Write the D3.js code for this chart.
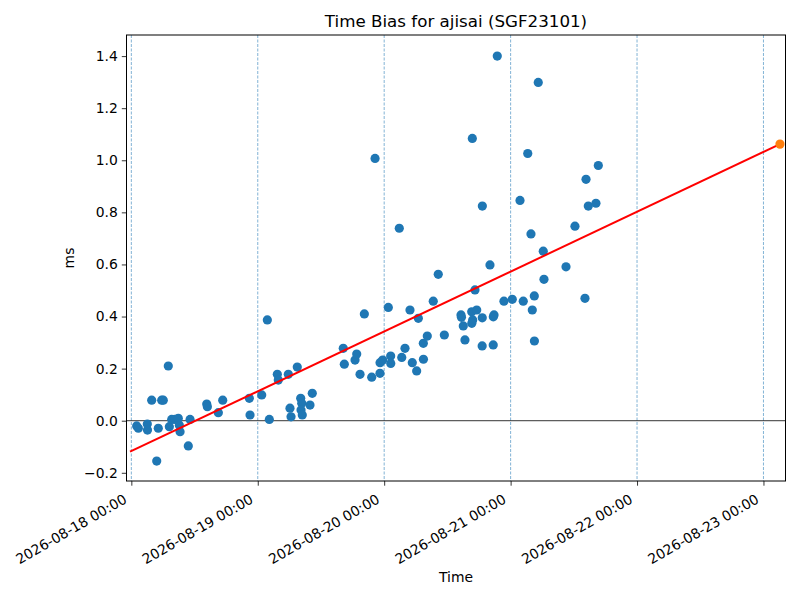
<!DOCTYPE html>
<html>
<head>
<meta charset="utf-8">
<script src="https://cdn.jsdelivr.net/npm/d3@7"></script>
<style>
  body { margin: 0; background: #fff; }
  text { font-family: "DejaVu Sans", sans-serif; fill: #000; }
</style>
</head>
<body>
<div id="chart"></div>
<script>
// measurement times (UTC) and time bias in ms
var times = [
  "2026-08-18 01:01", "2026-08-18 01:20", "2026-08-18 03:02", "2026-08-18 03:04", "2026-08-18 03:52",
  "2026-08-18 04:49", "2026-08-18 05:07", "2026-08-18 05:46", "2026-08-18 06:04", "2026-08-18 07:01",
  "2026-08-18 07:13", "2026-08-18 07:40", "2026-08-18 08:17", "2026-08-18 08:55", "2026-08-18 09:07",
  "2026-08-18 09:15", "2026-08-18 10:49", "2026-08-18 11:09", "2026-08-18 14:19", "2026-08-18 14:26",
  "2026-08-18 16:31", "2026-08-18 17:21", "2026-08-18 22:24", "2026-08-18 22:32", "2026-08-19 00:45",
  "2026-08-19 01:49", "2026-08-19 02:12", "2026-08-19 03:43", "2026-08-19 03:54", "2026-08-19 05:48",
  "2026-08-19 06:07", "2026-08-19 06:19", "2026-08-19 07:30", "2026-08-19 08:09", "2026-08-19 08:21",
  "2026-08-19 08:13", "2026-08-19 08:27", "2026-08-19 09:55", "2026-08-19 10:21", "2026-08-19 16:14",
  "2026-08-19 16:26", "2026-08-19 18:28", "2026-08-19 18:47", "2026-08-19 19:25", "2026-08-19 20:14",
  "2026-08-19 21:38", "2026-08-19 22:16", "2026-08-19 23:12", "2026-08-19 23:13", "2026-08-19 23:43",
  "2026-08-20 00:47", "2026-08-20 01:14", "2026-08-20 01:15", "2026-08-20 02:52", "2026-08-20 03:20",
  "2026-08-20 03:57", "2026-08-20 04:54", "2026-08-20 05:20", "2026-08-20 06:10", "2026-08-20 06:29",
  "2026-08-20 07:26", "2026-08-20 07:27", "2026-08-20 08:11", "2026-08-20 09:19", "2026-08-20 10:16",
  "2026-08-20 11:25", "2026-08-20 14:35", "2026-08-20 14:40", "2026-08-20 15:01", "2026-08-20 15:20",
  "2026-08-20 16:37", "2026-08-20 16:48", "2026-08-20 16:38", "2026-08-20 16:44", "2026-08-20 17:14",
  "2026-08-20 17:34", "2026-08-20 18:37", "2026-08-20 18:36", "2026-08-20 18:38", "2026-08-20 20:05",
  "2026-08-20 20:43", "2026-08-20 20:51", "2026-08-20 20:42", "2026-08-20 21:28", "2026-08-20 22:44",
  "2026-08-21 00:19", "2026-08-21 01:47", "2026-08-21 02:24", "2026-08-21 03:15", "2026-08-21 03:52",
  "2026-08-21 04:07", "2026-08-21 04:30", "2026-08-21 04:31", "2026-08-21 05:15", "2026-08-21 06:12",
  "2026-08-21 06:20", "2026-08-21 10:31", "2026-08-21 12:13", "2026-08-21 14:07", "2026-08-21 14:19",
  "2026-08-21 14:45", "2026-08-21 16:12", "2026-08-21 16:39"
];
var bias = [
  -0.020, -0.029, -0.013, -0.036, 0.079,
  -0.155, -0.029, 0.079, 0.079, 0.210,
  -0.023, 0.005, 0.005, 0.009, -0.017,
  -0.042, -0.097, 0.005, 0.064, 0.054,
  0.031, 0.079, 0.086, 0.022, 0.099,
  0.387, 0.005, 0.178, 0.156, 0.178,
  0.048, 0.015, 0.206, 0.086, 0.067,
  0.041, 0.022, 0.060, 0.105, 0.278,
  0.217, 0.233, 0.256, 0.178, 0.410,
  0.167, 1.007, 0.182, 0.223, 0.233,
  0.435, 0.248, 0.220, 0.739, 0.243,
  0.278, 0.425, 0.223, 0.191, 0.393,
  0.297, 0.236, 0.325, 0.459, 0.562,
  0.329, 0.406, 0.397, 0.364, 0.310,
  0.418, 0.387, 0.374, 1.084, 0.502,
  0.425, 0.395, 0.287, 0.824, 0.598,
  0.399, 0.406, 0.291, 1.400, 0.459,
  0.466, 0.846, 0.459, 1.026, 0.717,
  0.425, 0.479, 0.306, 1.299, 0.651,
  0.543, 0.591, 0.747, 0.470, 0.927,
  0.824, 0.835, 0.980
];

// linear fit and its extrapolated end point
var fitTimes = ["2026-08-17 23:45", "2026-08-23 03:08"];
var fitBias = [-0.119, 1.062];
var predTime = "2026-08-23 03:08";
var predBias = 1.062;

var xDomain = ["2026-08-17 23:05", "2026-08-23 04:11"];
var yDomain = [-0.2315, 1.481];
var yTicks = [-0.2, 0.0, 0.2, 0.4, 0.6, 0.8, 1.0, 1.2, 1.4];

var width = 800, height = 600;
var plotLeft = 126.5, plotRight = 785.5, plotTop = 35, plotBottom = 481;

var parse = d3.utcParse("%Y-%m-%d %H:%M");
var fmt = d3.utcFormat("%Y-%m-%d %H:%M");

var points = times.map((t, i) => ({date: parse(t), v: bias[i]}));
var fit = fitTimes.map((t, i) => ({date: parse(t), v: fitBias[i]}));

var x = d3.scaleUtc().domain(xDomain.map(parse)).range([plotLeft, plotRight]);
var y = d3.scaleLinear().domain(yDomain).range([plotBottom, plotTop]);

var svg = d3.select("#chart").append("svg")
  .attr("width", width)
  .attr("height", height);

/* midnight markers */
var days = d3.utcDay.range(d3.utcDay.ceil(x.domain()[0]), x.domain()[1]);
svg.append("g").selectAll("line")
  .data(days).enter()
  .append("line")
  .attr("x1", d => x(d)).attr("x2", d => x(d))
  .attr("y1", plotTop).attr("y2", plotBottom)
  .attr("stroke", "#1f77b4")
  .attr("stroke-opacity", 0.8)
  .attr("stroke-width", 0.7)
  .attr("stroke-dasharray", "3,1.5");

/* zero line */
svg.append("line")
  .attr("x1", plotLeft).attr("x2", plotRight)
  .attr("y1", y(0)).attr("y2", y(0))
  .attr("stroke", "#000")
  .attr("stroke-width", 0.8);

/* scatter */
svg.append("g").selectAll("circle")
  .data(points).enter()
  .append("circle")
  .attr("cx", d => x(d.date))
  .attr("cy", d => y(d.v))
  .attr("r", 4.6)
  .attr("fill", "#1f77b4");

/* fit line */
var line = d3.line().x(d => x(d.date)).y(d => y(d.v));
svg.append("path")
  .attr("d", line(fit))
  .attr("fill", "none")
  .attr("stroke", "#ff0000")
  .attr("stroke-width", 2);

svg.append("circle")
  .attr("cx", x(parse(predTime)))
  .attr("cy", y(predBias))
  .attr("r", 4.6)
  .attr("fill", "#ff7f0e");

/* axes */
var yAxis = d3.axisLeft(y).tickValues(yTicks).tickSize(4.7).tickPadding(4)
  .tickFormat(d => d3.format(".1f")(d).replace("-", "\u2212"));
var gy = svg.append("g")
  .attr("transform", `translate(${plotLeft},0)`)
  .call(yAxis);

var xAxis = d3.axisBottom(x).tickValues(days).tickSize(4.7).tickFormat(fmt);
var gx = svg.append("g")
  .attr("transform", `translate(0,${plotBottom})`)
  .call(xAxis);

[gx, gy].forEach(g => {
  g.select(".domain").remove();
  g.selectAll(".tick line").attr("stroke", "#000").attr("stroke-width", 0.8);
  g.selectAll(".tick text").style("font-size", "13.9px").attr("fill", "#000");
});

gx.selectAll(".tick text")
  .attr("text-anchor", "end")
  .attr("x", 0).attr("y", 0).attr("dy", null)
  .attr("transform", "translate(-4,21) rotate(-30)");

/* frame */
svg.append("rect")
  .attr("x", plotLeft).attr("y", plotTop)
  .attr("width", plotRight - plotLeft).attr("height", plotBottom - plotTop)
  .attr("fill", "none")
  .attr("stroke", "#000")
  .attr("stroke-width", 1);

/* labels */
svg.append("text")
  .attr("x", (plotLeft + plotRight) / 2).attr("y", 27)
  .attr("text-anchor", "middle")
  .style("font-size", "16.7px")
  .text("Time Bias for ajisai (SGF23101)");

svg.append("text")
  .attr("x", (plotLeft + plotRight) / 2).attr("y", 582)
  .attr("text-anchor", "middle")
  .style("font-size", "13.9px")
  .text("Time");

svg.append("text")
  .attr("transform", `translate(74,${(plotTop + plotBottom) / 2}) rotate(-90)`)
  .attr("text-anchor", "middle")
  .style("font-size", "13.9px")
  .text("ms");
</script>
</body>
</html>
